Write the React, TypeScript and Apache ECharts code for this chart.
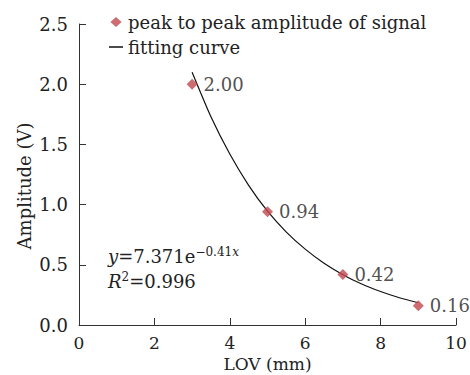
import React, { useEffect, useRef } from "react";
import * as echarts from "echarts";

const pointX = [3, 5, 7, 9];
const pointY = [2.0, 0.94, 0.42, 0.16];
const curveX = [3, 3.5, 4, 4.5, 5, 5.5, 6, 6.5, 7, 7.5, 8, 8.5, 9];
const curveY = [2.1, 1.73, 1.42, 1.16, 0.945, 0.772, 0.63, 0.513, 0.418, 0.34, 0.278, 0.226, 0.185];
const xTicks = [0, 2, 4, 6, 8, 10];
const yTicks = [0, 0.5, 1.0, 1.5, 2.0, 2.5];
const seriesNames = ["peak to peak amplitude of signal", "fitting curve"];

const FONT = "DejaVu Serif";
const RED = "#c0484e";
const FS = 18;

export default function App() {
  const ref = useRef<HTMLDivElement>(null);
  useEffect(() => {
    const chart = echarts.init(ref.current!, null, { renderer: "svg" });
    const axisLine = { show: true, lineStyle: { color: "#333", width: 1 } };
    chart.setOption({
      animation: false,
      backgroundColor: "#fff",
      textStyle: { fontFamily: FONT },
      grid: { left: 79, right: 14, top: 24, bottom: 50, containLabel: false, outerBoundsMode: "none" },
      legend: {
        orient: "vertical",
        left: 104,
        top: 8,
        itemWidth: 14,
        itemHeight: 10,
        itemGap: 7,
        textStyle: { fontFamily: FONT, fontSize: FS, color: "#222" },
        data: [
          { name: seriesNames[0], icon: "path://M7,1L11.5,5L7,9L2.5,5Z" },
          { name: seriesNames[1], icon: "path://M0,0H0.01V0.01H0Z M0,4.2H14V5.8H0Z M14,10H13.99V9.99H14Z" },
        ],
      },
      xAxis: {
        type: "value",
        min: xTicks[0],
        max: xTicks[xTicks.length - 1],
        interval: 2,
        name: "LOV (mm)",
        nameLocation: "middle",
        nameGap: 30,
        nameMoveOverlap: false,
        nameTextStyle: { fontFamily: FONT, fontSize: 17, lineHeight: 17, color: "#222" },
        axisLine,
        axisTick: { show: true, inside: true, length: 7, lineStyle: { color: "#333" } },
        axisLabel: { fontFamily: FONT, fontSize: 17, lineHeight: 17, color: "#222", margin: 9 },
        splitLine: { show: false },
      },
      yAxis: {
        type: "value",
        min: yTicks[0],
        max: yTicks[yTicks.length - 1],
        interval: 0.5,
        name: "Amplitude (V)",
        nameLocation: "middle",
        nameGap: 46,
        nameMoveOverlap: false,
        nameTextStyle: { fontFamily: FONT, fontSize: FS, color: "#222", padding: [0, 23, 0, 0] },
        axisLine,
        axisTick: { show: true, inside: true, length: 7, lineStyle: { color: "#333" } },
        axisLabel: {
          fontFamily: FONT,
          fontSize: FS,
          color: "#222",
          margin: 11,
          formatter: (v: number) => v.toFixed(1),
        },
        splitLine: { show: false },
      },
      series: [
        {
          name: seriesNames[1],
          type: "line",
          smooth: 0.2,
          symbol: "none",
          lineStyle: { color: "#111", width: 1.2 },
          itemStyle: { color: "#111" },
          data: curveX.map((x, i) => [x, curveY[i]]),
          z: 2,
        },
        {
          name: seriesNames[0],
          type: "scatter",
          symbol: "diamond",
          symbolSize: 11,
          itemStyle: { color: RED },
          data: pointX.map((x, i) => [x, pointY[i]]),
          label: {
            show: true,
            position: "right",
            distance: 6,
            fontFamily: FONT,
            fontSize: FS,
            color: "#222",
            formatter: (p: any) => p.value[1].toFixed(2),
          },
          z: 3,
        },
      ],
      graphic: [
        {
          type: "text",
          left: 108,
          top: 246,
          style: {
            text: "{i|y}{n|=7.371e}{s|−0.41}{si|x}",
            rich: {
              i: { fontFamily: FONT, fontSize: FS, fontStyle: "italic", fill: "#222" },
              n: { fontFamily: FONT, fontSize: FS, fill: "#222" },
              s: { fontFamily: FONT, fontSize: 12, fill: "#222", verticalAlign: "top", padding: [0, 0, 8, 0] },
              si: { fontFamily: FONT, fontSize: 12, fontStyle: "italic", fill: "#222", verticalAlign: "top", padding: [0, 0, 8, 0] },
            },
          },
        },
        {
          type: "text",
          left: 108,
          top: 271,
          style: {
            text: "{i|R}{s|2}{n|=0.996}",
            rich: {
              i: { fontFamily: FONT, fontSize: FS, fontStyle: "italic", fill: "#222" },
              n: { fontFamily: FONT, fontSize: FS, fill: "#222" },
              s: { fontFamily: FONT, fontSize: 12, fill: "#222", verticalAlign: "top", padding: [0, 0, 8, 0] },
            },
          },
        },
      ],
    });
    return () => chart.dispose();
  }, []);
  return (
    <div
      ref={ref}
      style={{ position: "fixed", left: 0, top: 0, width: 470, height: 375, background: "#fff" }}
    />
  );
}
